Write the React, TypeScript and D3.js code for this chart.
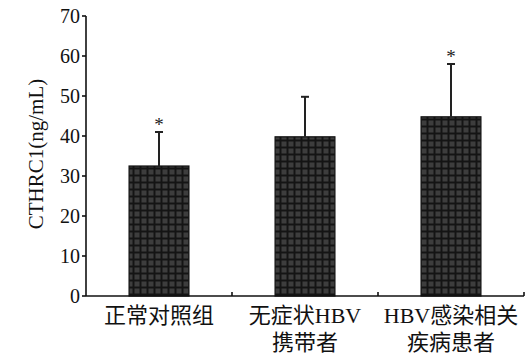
import React from "react";
import * as d3 from "d3";

const categories = [["正常对照组"], ["无症状HBV", "携带者"], ["HBV感染相关", "疾病患者"]];
const means = [32.5, 39.8, 44.8];
const errors = [8.5, 10, 13.2];
const significant = [true, false, true];
const yTicks = [0, 10, 20, 30, 40, 50, 60, 70];
const yLabel = "CTHRC1(ng/mL)";

const W = 531, H = 364;
const left = 86, right = 524, top = 16, bottom = 296;
const FONT = "'Liberation Serif', 'Noto Sans CJK SC', serif";

export default function App() {
  const x = d3.scaleBand<number>().domain(d3.range(categories.length)).range([left, right]).paddingInner(0.59).paddingOuter(0.295);
  const band = d3.scaleBand<number>().domain(d3.range(categories.length)).range([left, right]);
  const y = d3.scaleLinear().domain([0, 70]).range([bottom, top]);
  const bw = x.bandwidth();
  return (
    <svg width={W} height={H} style={{ position: "absolute", left: 0, top: 0 }}>
      <defs>
        <pattern id="grid" width={7} height={7} patternUnits="userSpaceOnUse">
          <rect width={7} height={7} fill="#141414" />
          <rect x={1.5} y={1.5} width={5} height={5} fill="#3d3d3d" />
        </pattern>
      </defs>
      <rect width={W} height={H} fill="#fff" />
      {means.map((m, i) => {
        const cx = (x(i) as number) + bw / 2;
        const yTop = y(m);
        const yErr = y(m + errors[i]);
        return (
          <g key={i}>
            <rect x={x(i)} y={yTop} width={bw} height={bottom - yTop} fill="url(#grid)" stroke="#111" strokeWidth={1.2} />
            <line x1={cx} x2={cx} y1={yTop} y2={yErr} stroke="#222" strokeWidth={2} />
            <line x1={cx - 4} x2={cx + 4} y1={yErr} y2={yErr} stroke="#222" strokeWidth={2} />
            {significant[i] && (
              <text x={cx} y={yErr - 1} textAnchor="middle" fontFamily={FONT} fontSize={19} fill="#222">*</text>
            )}
          </g>
        );
      })}
      {/* y axis */}
      <line x1={left} x2={left} y1={top} y2={bottom} stroke="#111" strokeWidth={1.6} />
      {yTicks.map((t) => (
        <g key={t}>
          <line x1={left - 4} x2={left} y1={y(t)} y2={y(t)} stroke="#111" strokeWidth={1.6} />
          <text x={left - 6} y={y(t)} dy="0.35em" textAnchor="end" fontFamily={FONT} fontSize={20} fill="#111">{t}</text>
        </g>
      ))}
      {/* x axis */}
      <line x1={left} x2={right} y1={bottom} y2={bottom} stroke="#111" strokeWidth={1.6} />
      {categories.map((_, i) => {
        const xe = (band(i) as number) + band.bandwidth();
        return <line key={i} x1={xe} x2={xe} y1={bottom} y2={bottom - 4} stroke="#111" strokeWidth={1.6} />;
      })}
      {categories.map((lines, i) => {
        const cx = (x(i) as number) + bw / 2;
        return (
          <text key={i} textAnchor="middle" fontFamily={FONT} fontSize={22} fill="#111">
            {lines.map((l, j) => (
              <tspan key={j} x={cx} y={323 + j * 27}>{l}</tspan>
            ))}
          </text>
        );
      })}
      <text transform={`translate(43,${(top + bottom) / 2 - 2}) rotate(-90)`} textAnchor="middle" fontFamily={FONT} fontSize={21} fill="#111">{yLabel}</text>
    </svg>
  );
}
